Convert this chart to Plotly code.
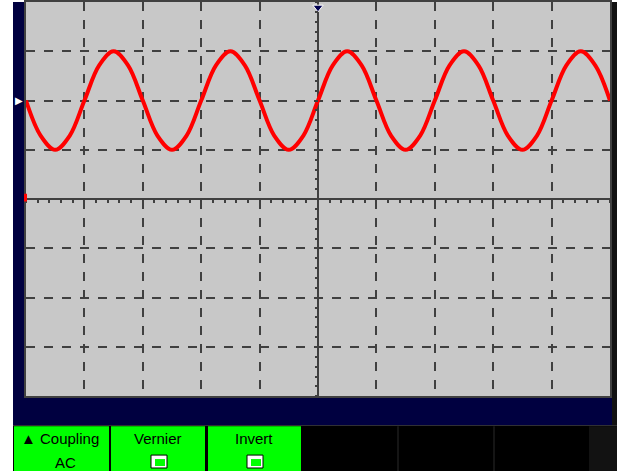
import plotly.graph_objects as go

# time in divisions (10 divisions across), voltage in divisions (8 divisions tall)
t_div = [-5.0, -4.75, -4.5, -4.25, -4.0, -3.75, -3.5, -3.25, -3.0, -2.75,
         -2.5, -2.25, -2.0, -1.75, -1.5, -1.25, -1.0, -0.75, -0.5, -0.25,
         0.0, 0.25, 0.5, 0.75, 1.0, 1.25, 1.5, 1.75, 2.0, 2.25,
         2.5, 2.75, 3.0, 3.25, 3.5, 3.75, 4.0, 4.25, 4.5, 4.75, 5.0]
ch1_div = [2.0, 1.29, 1.0, 1.29, 2.0, 2.71, 3.0, 2.71, 2.0, 1.29,
           1.0, 1.29, 2.0, 2.71, 3.0, 2.71, 2.0, 1.29, 1.0, 1.29,
           2.0, 2.71, 3.0, 2.71, 2.0, 1.29, 1.0, 1.29, 2.0, 2.71,
           3.0, 2.71, 2.0, 1.29, 1.0, 1.29, 2.0, 2.71, 3.0, 2.71, 2.0]

menu_titles = ["\u25b2 Coupling", "Vernier", "Invert"]
menu_values = ["AC", "", ""]

W, H = 617, 471
def px(x): return x / W
def py(y): return 1 - y / H

GRID = "#404040"
BG = "#c8c8c8"
NAVY = "#000040"

fig = go.Figure()
fig.add_trace(go.Scatter(x=t_div, y=ch1_div, mode="lines",
                         line=dict(color="#ff0000", width=4, shape="spline"),
                         hoverinfo="skip", showlegend=False))
# trigger position marker
fig.add_trace(go.Scatter(x=[0], y=[3.89], mode="markers",
                         marker=dict(symbol="triangle-down", size=9, color="#000050",
                                     line=dict(color="white", width=1)),
                         cliponaxis=False, hoverinfo="skip", showlegend=False))
# dummy trace to render the minor-tick axes
fig.add_trace(go.Scatter(x=[0], y=[0], xaxis="x2", yaxis="y2", mode="markers",
                         marker=dict(opacity=0), hoverinfo="skip", showlegend=False))

xd = [px(26), px(610)]
yd = [py(396), 1.0]

shapes = []
# navy frame
shapes.append(dict(type="rect", xref="paper", yref="paper", x0=px(13), x1=px(612),
                   y0=py(425), y1=1, fillcolor=NAVY, line=dict(width=0), layer="below"))
shapes.append(dict(type="rect", xref="paper", yref="paper", x0=px(612), x1=1,
                   y0=py(425), y1=1, fillcolor="#111111", line=dict(width=0), layer="below"))
# gray screen
shapes.append(dict(type="rect", xref="paper", yref="paper", x0=xd[0], x1=xd[1],
                   y0=yd[0], y1=yd[1], fillcolor=BG, line=dict(width=0), layer="below"))
# bottom menu row
shapes.append(dict(type="rect", xref="paper", yref="paper", x0=px(13), x1=1,
                   y0=0, y1=py(425), fillcolor="#000000", line=dict(width=0), layer="below"))
shapes.append(dict(type="rect", xref="paper", yref="paper", x0=px(589), x1=1,
                   y0=0, y1=py(426), fillcolor="#121212", line=dict(width=0), layer="below"))
for xs in (398, 494):
    shapes.append(dict(type="line", xref="paper", yref="paper", x0=px(xs), x1=px(xs),
                       y0=0, y1=py(426), line=dict(color="#1c1c1c", width=1.5), layer="below"))
for (a, b) in [(14, 109), (111, 205), (208, 301)]:
    shapes.append(dict(type="rect", xref="paper", yref="paper", x0=px(a), x1=px(b),
                       y0=0, y1=py(426), fillcolor="#00ff00", line=dict(width=0)))
# checkbox icons
for cx in (159, 255):
    shapes.append(dict(type="rect", xref="paper", yref="paper", x0=px(cx - 8), x1=px(cx + 8),
                       y0=py(468), y1=py(455), fillcolor="#ffffff",
                       line=dict(color="#000000", width=1)))
    shapes.append(dict(type="rect", xref="paper", yref="paper", x0=px(cx - 4), x1=px(cx + 6),
                       y0=py(466), y1=py(459), fillcolor="#00ff00", line=dict(width=0)))
# red ground marker at left edge
shapes.append(dict(type="rect", xref="paper", yref="y", x0=px(24), x1=px(27),
                   y0=-0.05, y1=0.11, fillcolor="#ff0000", line=dict(width=0)))

annotations = [
    dict(text="\u25b6", xref="paper", yref="y", x=px(19), y=2.0, showarrow=False,
         xanchor="center", yanchor="middle",
         font=dict(color="white", size=10, family="DejaVu Sans")),
]
cent = [60, 158, 254]
for c, t, v in zip(cent, menu_titles, menu_values):
    annotations.append(dict(text=t, xref="paper", yref="paper", x=px(c), y=py(438),
                            xanchor="center", yanchor="middle", showarrow=False,
                            font=dict(family="Liberation Sans", size=15, color="black")))
    if v:
        annotations.append(dict(text=v, xref="paper", yref="paper", x=px(c + 5), y=py(462),
                                xanchor="center", yanchor="middle", showarrow=False,
                                font=dict(family="Liberation Sans", size=15, color="black")))

fig.update_layout(
    width=W, height=H, margin=dict(l=0, r=0, t=0, b=0),
    paper_bgcolor="white", plot_bgcolor="rgba(0,0,0,0)",
    xaxis=dict(domain=xd, range=[-5, 5], dtick=1, tick0=0, showticklabels=False,
               showgrid=True, gridcolor=GRID, gridwidth=1.5, griddash="dash",
               zeroline=True, zerolinecolor=GRID, zerolinewidth=2,
               showline=True, mirror=True, linecolor=GRID, linewidth=2, ticks="",
               fixedrange=True),
    yaxis=dict(domain=yd, range=[-4, 4], dtick=1, tick0=0, showticklabels=False,
               showgrid=True, gridcolor=GRID, gridwidth=1.5, griddash="dash",
               zeroline=True, zerolinecolor=GRID, zerolinewidth=2,
               showline=True, mirror=True, linecolor=GRID, linewidth=2, ticks="",
               fixedrange=True),
    xaxis2=dict(overlaying="x", anchor="free", position=(yd[0] + yd[1]) / 2, side="bottom",
                range=[-5, 5], dtick=0.2, tick0=0, ticks="outside", ticklen=3,
                tickcolor=GRID, tickwidth=2, showticklabels=False, showgrid=False,
                zeroline=False, showline=False, fixedrange=True),
    yaxis2=dict(overlaying="y", anchor="free", position=(xd[0] + xd[1]) / 2, side="left",
                range=[-4, 4], dtick=0.2, tick0=0, ticks="outside", ticklen=3,
                tickcolor=GRID, tickwidth=2, showticklabels=False, showgrid=False,
                zeroline=False, showline=False, fixedrange=True),
    shapes=shapes, annotations=annotations,
)
fig.write_html("out.html", config={"displayModeBar": False},
               post_script="document.body.style.margin='0';document.body.style.padding='0';")
